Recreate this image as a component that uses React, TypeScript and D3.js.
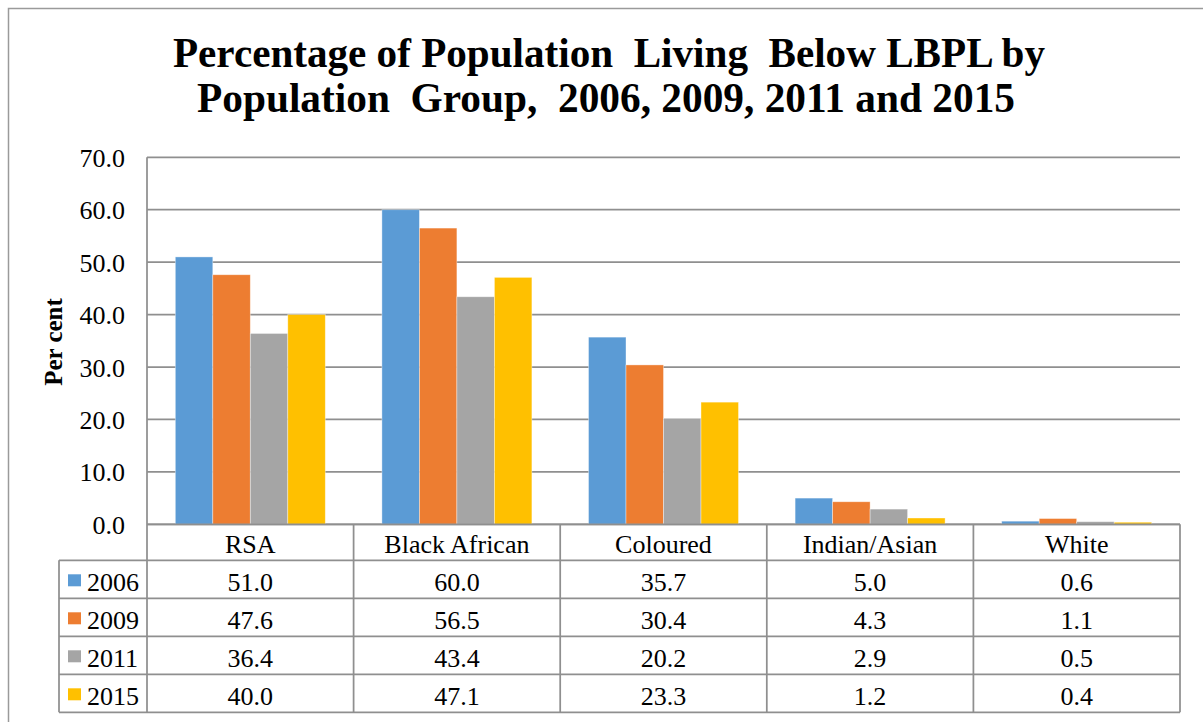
import React from "react";
import * as d3 from "d3";

const categories = ["RSA", "Black African", "Coloured", "Indian/Asian", "White"];
const years = ["2006", "2009", "2011", "2015"];
const values2006 = [51.0, 60.0, 35.7, 5.0, 0.6];
const values2009 = [47.6, 56.5, 30.4, 4.3, 1.1];
const values2011 = [36.4, 43.4, 20.2, 2.9, 0.5];
const values2015 = [40.0, 47.1, 23.3, 1.2, 0.4];
const yTicks = [0, 10, 20, 30, 40, 50, 60, 70];
const colors = ["#5B9BD5", "#ED7D31", "#A5A5A5", "#FFC000"];
const titleLines = [
  "Percentage of Population  Living  Below LBPL by",
  "Population  Group,  2006, 2009, 2011 and 2015",
];

const series = [values2006, values2009, values2011, values2015];

const W = 1203;
const H = 722;
const plotLeft = 147;
const plotRight = 1180;
const plotTop = 157.3;
const plotBottom = 524.3;
const headerH = 36;
const rowH = 38;
const legendLeft = 59;
const gridColor = "#8f8f8f";
const font = "'Liberation Serif', 'Times New Roman', serif";

export default function App() {
  const x = d3.scaleBand<string>().domain(categories).range([plotLeft, plotRight]).padding(0);
  const bw = x.bandwidth();
  const gap = bw * 0.137;
  const xs = d3.scaleBand<string>().domain(years).range([gap, bw - gap]).padding(0);
  const y = d3.scaleLinear().domain([0, 70]).range([plotBottom, plotTop]);
  const fmt = d3.format(".1f");

  const tableTop = plotBottom;
  const rowsTop = tableTop + headerH;
  const tableBottom = rowsTop + rowH * years.length;

  return (
    <div style={{ position: "fixed", left: 0, top: 0, width: W, height: H, background: "#fff" }}>
      <svg width={W} height={H} style={{ display: "block", fontFamily: font }}>
        <rect x={0} y={0} width={W} height={H} fill="#fff" />
        {/* outer chart frame */}
        <rect x={8.5} y={8.5} width={W} height={H} fill="none" stroke="#9a9a9a" strokeWidth={1.5} />

        {/* title */}
        {titleLines.map((t, i) => (
          <text
            key={i}
            x={i === 0 ? 609 : 606}
            y={i === 0 ? 67 : 112}
            textAnchor="middle"
            fontSize={42}
            fontWeight="bold"
            fill="#000"
            textLength={i === 0 ? 872 : 818}
            lengthAdjust="spacingAndGlyphs"
            style={{ whiteSpace: "pre" }}
          >
            {t}
          </text>
        ))}

        {/* gridlines */}
        {yTicks.map((t) => (
          <line key={t} x1={plotLeft} x2={plotRight} y1={y(t)} y2={y(t)} stroke={gridColor} strokeWidth={1.75} />
        ))}

        {/* y tick labels */}
        {yTicks.map((t) => (
          <text key={"l" + t} x={125} y={y(t) + 9.5} textAnchor="end" fontSize={26} fill="#000">
            {fmt(t)}
          </text>
        ))}

        {/* axis title */}
        <text
          transform={`translate(62,342) rotate(-90)`}
          textAnchor="middle"
          fontSize={25}
          fontWeight="bold"
          fill="#000"
        >
          Per cent
        </text>

        {/* bars */}
        {categories.map((c, ci) => (
          <g key={c} transform={`translate(${x(c)},0)`}>
            {series.map((s, si) => (
              <rect
                key={si}
                x={xs(years[si])}
                y={y(s[ci])}
                width={xs.bandwidth()}
                height={y(0) - y(s[ci])}
                fill={colors[si]}
                stroke="#ffffff"
                strokeOpacity={0.5}
                strokeWidth={0.75}
              />
            ))}
          </g>
        ))}

        {/* data table: horizontal rules */}
        <line x1={plotLeft} x2={plotRight} y1={tableTop} y2={tableTop} stroke={gridColor} strokeWidth={1.75} />
        {d3.range(years.length + 1).map((r) => (
          <line
            key={"h" + r}
            x1={legendLeft}
            x2={plotRight}
            y1={rowsTop + r * rowH}
            y2={rowsTop + r * rowH}
            stroke={gridColor}
            strokeWidth={1.75}
          />
        ))}
        {/* vertical rules */}
        <line x1={plotLeft} x2={plotLeft} y1={plotTop} y2={tableBottom} stroke={gridColor} strokeWidth={1.75} />
        <line x1={legendLeft} x2={legendLeft} y1={rowsTop} y2={tableBottom} stroke={gridColor} strokeWidth={1.75} />
        {categories.map((c) => (
          <line
            key={"v" + c}
            x1={(x(c) as number) + bw}
            x2={(x(c) as number) + bw}
            y1={tableTop}
            y2={tableBottom}
            stroke={gridColor}
            strokeWidth={1.75}
          />
        ))}

        {/* category headers */}
        {categories.map((c) => (
          <text key={"c" + c} x={(x(c) as number) + bw / 2} y={rowsTop - 7} textAnchor="middle" fontSize={26} fill="#000">
            {c}
          </text>
        ))}

        {/* legend keys and values */}
        {years.map((yr, si) => {
          const top = rowsTop + si * rowH;
          return (
            <g key={yr}>
              <rect x={68} y={top + 14} width={13} height={12} fill={colors[si]} />
              <text x={87} y={top + rowH - 7.5} fontSize={26} fill="#000">
                {yr}
              </text>
              {categories.map((c, ci) => (
                <text
                  key={c}
                  x={(x(c) as number) + bw / 2}
                  y={top + rowH - 7.5}
                  textAnchor="middle"
                  fontSize={26}
                  fill="#000"
                >
                  {fmt(series[si][ci])}
                </text>
              ))}
            </g>
          );
        })}
      </svg>
    </div>
  );
}
